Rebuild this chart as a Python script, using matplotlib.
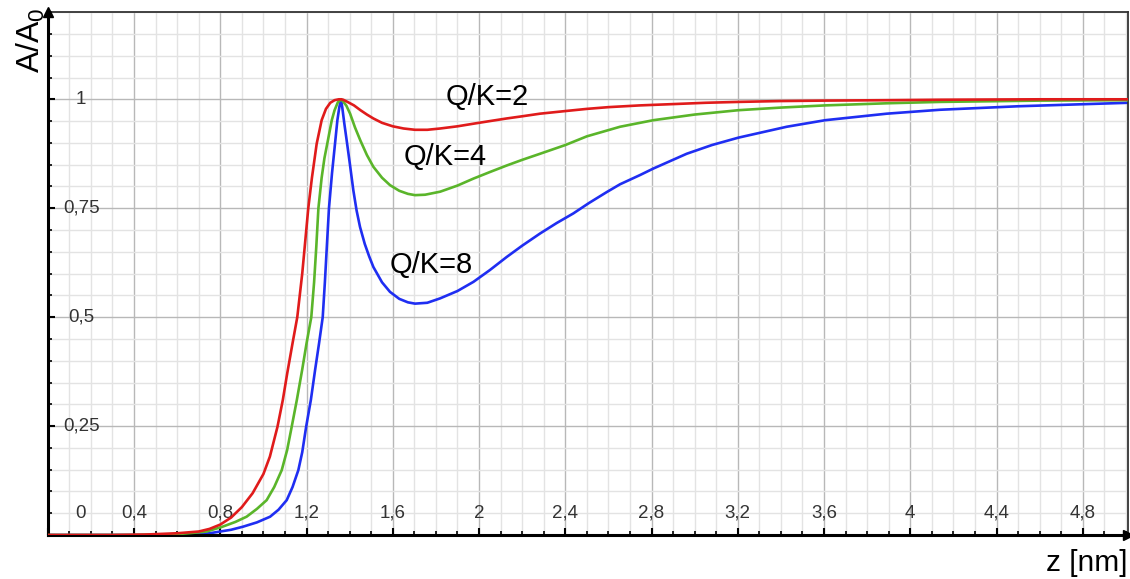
import numpy as np
import matplotlib
matplotlib.use('Agg')
import matplotlib.pyplot as plt
from matplotlib.ticker import MultipleLocator

plt.rcParams['font.family'] = ['Liberation Sans', 'DejaVu Sans']

# curves (z in nm, A/A0)
x_q2 = [0, 0.3, 0.45, 0.55, 0.6, 0.7, 0.75, 0.8, 0.85, 0.9, 0.95, 1.0, 1.03, 1.065, 1.09,
        1.11, 1.135, 1.157, 1.18, 1.195, 1.208, 1.225, 1.247, 1.27, 1.29, 1.31, 1.33, 1.35,
        1.36, 1.37, 1.39, 1.42, 1.45, 1.48, 1.51, 1.55, 1.6, 1.65, 1.703, 1.76, 1.82, 1.9,
        1.974, 2.05, 2.128, 2.2, 2.283, 2.4, 2.5, 2.6, 2.746, 2.9, 3.05, 3.203, 3.4, 3.6,
        3.9, 4.138, 4.6, 5.01]
y_q2 = [0, 0, 0.001, 0.003, 0.004, 0.008, 0.014, 0.024, 0.04, 0.064, 0.096, 0.14, 0.18,
        0.248, 0.31, 0.37, 0.44, 0.5, 0.6, 0.68, 0.75, 0.82, 0.898, 0.952, 0.978, 0.992,
        0.998, 1.0, 1.0, 0.999, 0.994, 0.986, 0.975, 0.965, 0.956, 0.946, 0.938, 0.933,
        0.930, 0.930, 0.933, 0.938, 0.944, 0.950, 0.956, 0.961, 0.967, 0.973, 0.978, 0.982,
        0.986, 0.989, 0.992, 0.994, 0.996, 0.997, 0.998, 0.999, 1.0, 1.0]

x_q4 = [0, 0.4, 0.5, 0.6, 0.7, 0.737, 0.81, 0.87, 0.922, 0.97, 1.015, 1.05, 1.085, 1.11,
        1.131, 1.155, 1.18, 1.2, 1.222, 1.235, 1.245, 1.255, 1.27, 1.283, 1.296, 1.317, 1.33,
        1.345, 1.36, 1.37, 1.385, 1.402, 1.425, 1.45, 1.48, 1.51, 1.55, 1.587, 1.63, 1.67,
        1.703, 1.75, 1.82, 1.9, 1.974, 2.05, 2.128, 2.2, 2.283, 2.4, 2.5, 2.654, 2.808, 3.0,
        3.203, 3.4, 3.605, 3.9, 4.138, 4.6, 5.01]
y_q4 = [0, 0, 0.001, 0.002, 0.006, 0.008, 0.019, 0.03, 0.042, 0.06, 0.080, 0.11, 0.149,
        0.195, 0.248, 0.31, 0.38, 0.44, 0.5, 0.58, 0.66, 0.75, 0.82, 0.865, 0.898, 0.952,
        0.975, 0.993, 1.0, 0.995, 0.985, 0.967, 0.935, 0.905, 0.872, 0.845, 0.82, 0.803,
        0.79, 0.783, 0.780, 0.781, 0.788, 0.802, 0.818, 0.833, 0.848, 0.861, 0.875, 0.895,
        0.915, 0.937, 0.952, 0.965, 0.975, 0.981, 0.986, 0.991, 0.994, 0.997, 0.998]

x_q8 = [0, 0.5, 0.65, 0.7, 0.75, 0.8, 0.85, 0.905, 0.97, 1.031, 1.07, 1.108, 1.135, 1.162,
        1.18, 1.198, 1.22, 1.24, 1.258, 1.275, 1.285, 1.295, 1.304, 1.318, 1.332, 1.343,
        1.352, 1.36, 1.366, 1.375, 1.386, 1.40, 1.417, 1.432, 1.448, 1.47, 1.49, 1.51, 1.55,
        1.587, 1.63, 1.67, 1.703, 1.76, 1.819, 1.9, 1.974, 2.05, 2.128, 2.2, 2.283, 2.36,
        2.437, 2.51, 2.592, 2.654, 2.746, 2.808, 2.963, 3.08, 3.203, 3.427, 3.605, 3.891,
        4.138, 4.5, 5.01]
y_q8 = [0, 0, 0.001, 0.002, 0.004, 0.008, 0.012, 0.019, 0.029, 0.042, 0.058, 0.080, 0.11,
        0.149, 0.19, 0.248, 0.31, 0.38, 0.44, 0.5, 0.58, 0.67, 0.75, 0.83, 0.898, 0.952,
        0.982, 1.0, 0.98, 0.945, 0.906, 0.855, 0.791, 0.745, 0.707, 0.668, 0.64, 0.615, 0.58,
        0.558, 0.542, 0.534, 0.531, 0.533, 0.543, 0.56, 0.581, 0.608, 0.638, 0.664, 0.692,
        0.716, 0.738, 0.762, 0.787, 0.805, 0.826, 0.841, 0.875, 0.895, 0.912, 0.937, 0.952,
        0.967, 0.976, 0.984, 0.992]

xtick_vals = [0.4, 0.8, 1.2, 1.6, 2, 2.4, 2.8, 3.2, 3.6, 4, 4.4, 4.8]
ytick_vals = [0.25, 0.5, 0.75, 1]

def fmt(v):
    return ('%g' % v).replace('.', ',')

fig = plt.figure(figsize=(11.3, 5.79), dpi=100)
ax = fig.add_axes([0.0423, 0.076, 0.956, 0.903])
ax.set_xlim(0, 5.01)
ax.set_ylim(0, 1.2)

ax.plot(x_q2, y_q2, color='#e01b1b', lw=1.9, zorder=4, solid_joinstyle='round')
ax.plot(x_q4, y_q4, color='#5ab52a', lw=1.9, zorder=3, solid_joinstyle='round')
ax.plot(x_q8, y_q8, color='#1f2ef2', lw=1.9, zorder=2, solid_joinstyle='round')

ax.xaxis.set_major_locator(MultipleLocator(0.4))
ax.xaxis.set_minor_locator(MultipleLocator(0.1))
ax.yaxis.set_major_locator(MultipleLocator(0.25))
ax.yaxis.set_minor_locator(MultipleLocator(0.05))
ax.set_axisbelow(True)
ax.grid(which='major', color='#b8b8b8', lw=1)
ax.grid(which='minor', color='#e3e3e3', lw=1)
ax.tick_params(which='both', direction='in', labelbottom=False, labelleft=False,
               top=False, right=False, color='black')
ax.tick_params(which='major', length=5, width=1.5)
ax.tick_params(which='minor', length=3, width=1.2)

for s in ['left', 'bottom']:
    ax.spines[s].set_linewidth(2.2)
    ax.spines[s].set_color('black')
for s in ['top', 'right']:
    ax.spines[s].set_linewidth(1.3)
    ax.spines[s].set_color('#333333')

# arrow heads on the axes
ax.plot(0, 1, marker='^', ms=7, color='black', transform=ax.transAxes, clip_on=False, zorder=6)
ax.plot(1, 0, marker='>', ms=7, color='black', transform=ax.transAxes, clip_on=False, zorder=6)

# tick labels inside the plot
for v in xtick_vals:
    ax.text(v, 0.05, fmt(v), ha='center', va='center', fontsize=13.5, color='#333333')
ax.text(0.15, 0.05, '0', ha='center', va='center', fontsize=13.5, color='#333333')
for v in ytick_vals:
    ax.text(0.155, v, fmt(v), ha='center', va='center', fontsize=13.5, color='#333333')

ax.text(2.04, 1.005, 'Q/K=2', ha='center', va='center', fontsize=21)
ax.text(1.843, 0.867, 'Q/K=4', ha='center', va='center', fontsize=21)
ax.text(1.78, 0.62, 'Q/K=8', ha='center', va='center', fontsize=21)

fig.text(0.027, 0.931, r'A/A$_\mathregular{0}$', rotation=90, ha='center', va='center', fontsize=23)
fig.text(0.962, 0.028, 'z [nm]', ha='center', va='center', fontsize=21.5)

fig.savefig('out.png', dpi=100)
